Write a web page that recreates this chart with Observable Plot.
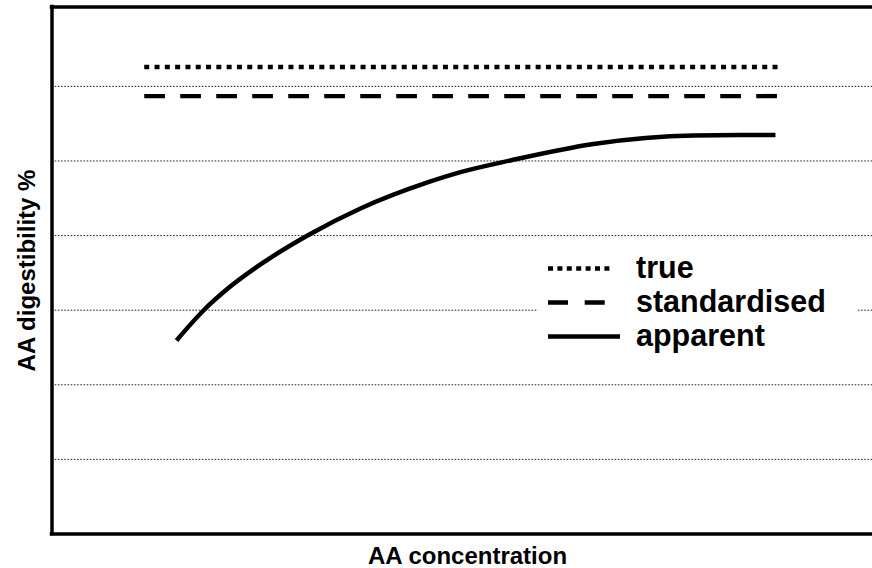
<!DOCTYPE html>
<html><head><meta charset="utf-8">
<script src="https://cdn.jsdelivr.net/npm/d3@7"></script>
<script src="https://cdn.jsdelivr.net/npm/@observablehq/plot@0.6"></script>
<style>
html,body{margin:0;padding:0;background:#fff;overflow:hidden;}
#chart{position:relative;width:872px;height:568px;}
</style></head><body><div id="chart"></div>
<script>
// ---- data ----
const gridValues = [10, 20, 30, 40, 50, 60];
const concentration = [1.498, 1.823, 2.112, 2.509, 3.075, 3.712, 4.519, 4.916, 5.517, 6.516, 7.72, 8.706];
const apparent = [25.94, 29.96, 32.86, 36.13, 40.01, 43.63, 47.12, 48.5, 50.07, 52.28, 53.42, 53.49];
const flatX = [1.11, 8.79];
const trueValue = 62.6;
const standardisedValue = 58.7;
const legendLabels = ["true", "standardised", "apparent"];
const xLabel = "AA concentration";
const yLabel = "AA digestibility %";
const xDomain = [0, 10];
const yDomain = [0, 70.64];

const apparentData = concentration.map((x, i) => ({x, y: apparent[i]}));
const trueData = flatX.map(x => ({x, y: trueValue}));
const stdData = flatX.map(x => ({x, y: standardisedValue}));

const FONT = "'Liberation Sans', Arial, sans-serif";

const plot = Plot.plot({
  width: 872, height: 568,
  marginLeft: 51.5, marginRight: -10.5, marginTop: 6.5, marginBottom: 34.5,
  style: {fontFamily: FONT, fontWeight: "bold", fontSize: "24px", background: "#fff", color: "#000"},
  x: {domain: xDomain},
  y: {domain: yDomain},
  marks: [
    Plot.ruleY(gridValues, {stroke: "#222", strokeWidth: 1, strokeDasharray: "1.6,1.6"}),
    Plot.line(trueData, {x: "x", y: "y", stroke: "#000", strokeWidth: 4.3, strokeLinecap: "butt", strokeDasharray: "5,5.3"}),
    Plot.line(stdData, {x: "x", y: "y", stroke: "#000", strokeWidth: 4.3, strokeLinecap: "butt", strokeDasharray: "20.7,15.3"}),
    Plot.line(apparentData, {x: "x", y: "y", curve: "monotone-x", stroke: "#000", strokeWidth: 4.5, strokeLinecap: "butt"}),
    Plot.ruleX([xDomain[0]], {stroke: "#000", strokeWidth: 3.5, strokeLinecap: "square"}),
    Plot.ruleY(yDomain, {stroke: "#000", strokeWidth: 3.5, strokeLinecap: "square"}),
    Plot.axisX({ticks: [], tickSize: 0, label: xLabel, labelAnchor: "center", labelOffset: 30, labelArrow: "none"}),
    Plot.axisY({ticks: [], tickSize: 0, label: yLabel, labelAnchor: "center", labelOffset: 34.5, labelArrow: "none"})
  ]
});

// ---- legend (inside plot area, on a white box) ----
const svg = d3.select(plot);
const lg = svg.append("g");
lg.append("rect").attr("x", 538).attr("y", 248).attr("width", 320).attr("height", 108).attr("fill", "#fff");
const legendDash = ["5,4.4", "20,16.7", null];
const legendLen = [62, 60, 72];
const rowY = [268.5, 302.5, 336.5];
legendLabels.forEach((lab, i) => {
  const l = lg.append("line").attr("x1", 548).attr("x2", 548 + legendLen[i])
    .attr("y1", rowY[i]).attr("y2", rowY[i])
    .attr("stroke", "#000").attr("stroke-width", 4.3);
  if (legendDash[i]) l.attr("stroke-dasharray", legendDash[i]);
  lg.append("text").attr("x", 636).attr("y", rowY[i] + 9)
    .attr("text-anchor", "start")
    .attr("font-family", FONT).attr("font-weight", "bold").attr("font-size", 30.5)
    .attr("fill", "#000").text(lab);
});

document.getElementById("chart").appendChild(plot);
</script>
</body></html>
